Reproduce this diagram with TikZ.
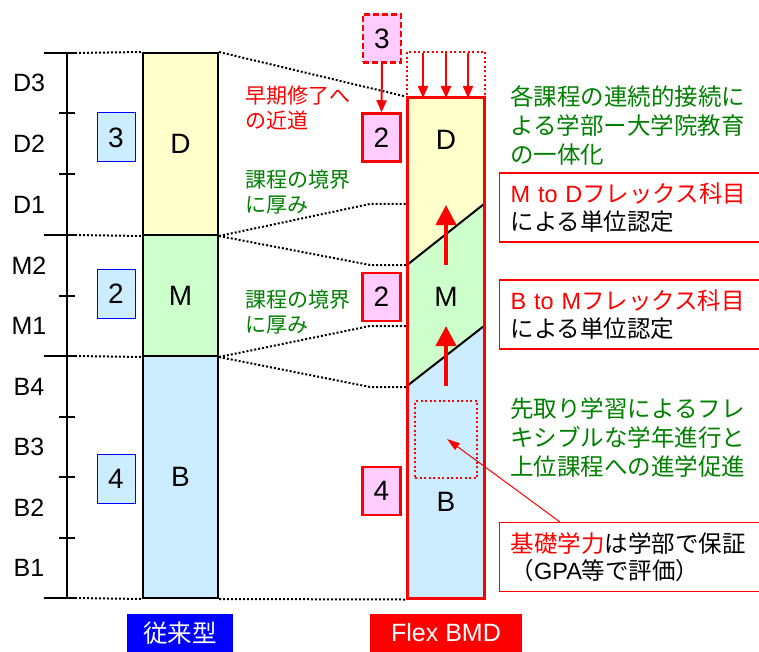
\documentclass[tikz,border=0pt]{standalone}
\usepackage{fontspec}
\setmainfont{Liberation Sans}
\newfontfamily\jp{Noto Sans CJK JP}
\usetikzlibrary{arrows.meta}
\definecolor{cY}{HTML}{FFFFCC}
\definecolor{cG}{HTML}{CCFFCC}
\definecolor{cB}{HTML}{CCECFF}
\definecolor{cP}{HTML}{FFCCFF}
\definecolor{tG}{HTML}{008000}
\begin{document}
\begin{tikzpicture}[x=1pt,y=-1pt,
 every node/.style={inner sep=0pt},
 colbox/.style={draw=black, line width=2pt, minimum width=75pt, font=\fontsize{28}{30}\selectfont},
 bluebox/.style={draw=blue, fill=cB, line width=1pt, minimum width=38pt, minimum height=49pt, font=\fontsize{28}{30}\selectfont},
 pinkbox/.style={draw=red, fill=cP, line width=2.5pt, minimum width=38pt, minimum height=48pt, font=\fontsize{28}{30}\selectfont},
 dots/.style={line width=2pt, dash pattern=on 2pt off 2pt},
 axisline/.style={line width=2.5pt},
 yearlbl/.style={font=\fontsize{25}{27}\selectfont},
 smalltxt/.style={align=left, anchor=west, font=\jp\fontsize{21}{25}\selectfont},
 bigtxt/.style={align=left, anchor=west, font=\jp\fontsize{23.5}{29}\selectfont},
 callout/.style={draw=red, line width=1.2pt, minimum height=69pt, inner xsep=11pt, align=left, text width=240pt, anchor=west, font=\jp\fontsize{23.5}{27.5}\selectfont},
 smallarrow/.style={draw=red, line width=2pt, -{Triangle[width=10pt,length=12pt]}},
 bigarrow/.style={draw=red, line width=4pt, -{Triangle[width=20pt,length=20pt]}},
 tag/.style={minimum height=38pt, text=white, font=\fontsize{25}{27}\selectfont}
]
\useasboundingbox (0,0) rectangle (759,652);

% ---------- left axis ----------
\draw[axisline] (67,53) -- (67,598);
\foreach \yy in {53,235,356,598} \draw[axisline] (44,\yy) -- (75,\yy);
\foreach \yy in {113,174,296,417,477,538} \draw[axisline] (59,\yy) -- (75,\yy);
\node[yearlbl] (yD3) at (29,83) {D3};
\node[yearlbl] (yD2) at (29,144) {D2};
\node[yearlbl] (yD1) at (29,205) {D1};
\node[yearlbl] (yM2) at (29,266) {M2};
\node[yearlbl] (yM1) at (29,326) {M1};
\node[yearlbl] (yB4) at (29,387) {B4};
\node[yearlbl] (yB3) at (29,447) {B3};
\node[yearlbl] (yB2) at (29,508) {B2};
\node[yearlbl] (yB1) at (29,568) {B1};

% ---------- left column ----------
\node[colbox, fill=cY, minimum height=182pt] (LD) at (180.5,144) {D};
\node[colbox, fill=cG, minimum height=121pt] (LM) at (180.5,295.5) {M};
\node[colbox, fill=cB, minimum height=242pt] (LB) at (180.5,477) {B};
\node[bluebox] (bx3) at (116,137.5) {3};
\node[bluebox] (bx2) at (116,293.5) {2};
\node[bluebox] (bx4) at (116,478.5) {4};

\coordinate (a1) at (75,53);
\coordinate (a2) at (75,235);
\coordinate (a3) at (75,356);
\coordinate (a4) at (75,598);
\draw[dots] (a1) -- (LD.north west);
\draw[dots] (a2) -- (LD.south west);
\draw[dots] (a3) -- (LM.south west);
\draw[dots] (a4) -- (LB.south west);

% ---------- right column ----------
\fill[cY] (407,98) -- (484,98) -- (484,204) -- (407,265) -- cycle;
\fill[cG] (407,265) -- (484,204) -- (484,326) -- (407,386) -- cycle;
\fill[cB] (407,386) -- (484,326) -- (484,598) -- (407,598) -- cycle;
\draw[line width=2pt] (407,265) -- (484,204);
\draw[line width=2pt] (407,386) -- (484,326);
\node[draw=red, line width=3pt, minimum width=77pt, minimum height=500pt] (RC) at (445.5,348) {};
\node[font=\fontsize{28}{30}\selectfont] (RD) at (446,140) {D};
\node[font=\fontsize{28}{30}\selectfont] (RM) at (446,297) {M};
\node[font=\fontsize{28}{30}\selectfont] (RB) at (446,502) {B};

% dotted connectors between columns
\coordinate (k1) at (370,204); \coordinate (k1e) at (407,204);
\coordinate (k2) at (370,265); \coordinate (k2e) at (407,265);
\coordinate (k3) at (370,326); \coordinate (k3e) at (407,326);
\coordinate (k4) at (370,387); \coordinate (k4e) at (407,387);
\draw[dots] (LD.north east) -- (RC.north west);
\draw[dots] (LD.south east) -- (k1) -- (k1e);
\draw[dots] (LD.south east) -- (k2) -- (k2e);
\draw[dots] (LM.south east) -- (k3) -- (k3e);
\draw[dots] (LM.south east) -- (k4) -- (k4e);
\draw[dots] (LB.south east) -- (RC.south west);

% pink boxes
\node[pinkbox, dashed, dash pattern=on 6pt off 3pt] (P3) at (382,38.5) {3};
\node[pinkbox] (P2a) at (381.5,137.5) {2};
\node[pinkbox] (P2b) at (381.5,297) {2};
\node[pinkbox] (P4) at (381.5,491) {4};
\draw[smallarrow] (P3.south) -- (P2a.north);

% dotted red frame on top with arrows
\node[draw=red, line width=2pt, dash pattern=on 2pt off 2.5pt, minimum width=78pt, minimum height=46pt] (TOP) at (446,75) {};
\foreach \xx/\nm in {423/t1,446/t2,468/t3} {
  \coordinate (\nm s) at (\xx,53);
  \coordinate (\nm e) at (\xx,98);
  \draw[smallarrow] (\nm s) -- (\nm e);
}

% big upward arrows
\coordinate (u1s) at (446,265); \coordinate (u1e) at (446,205);
\coordinate (u2s) at (446,386); \coordinate (u2e) at (446,326);
\draw[bigarrow] (u1s) -- (u1e);
\draw[bigarrow] (u2s) -- (u2e);

% inner dotted frame
\node[draw=red, line width=2pt, dash pattern=on 2pt off 2.5pt, minimum width=62pt, minimum height=77pt] (IN) at (446,439.5) {};

% ---------- texts ----------
\node[smalltxt, text=red] (t1) at (245,107.5) {早期修了へ\\の近道};
\node[smalltxt, text=tG] (t2) at (245,192) {課程の境界\\に厚み};
\node[smalltxt, text=tG] (t3) at (245,312.5) {課程の境界\\に厚み};
\node[bigtxt, text=tG] (t4) at (510,125.5) {各課程の連続的接続に\\よる学部ー大学院教育\\の一体化};
\node[bigtxt, text=tG] (t5) at (510,438) {先取り学習によるフレ\\キシブルな学年進行と\\上位課程への進学促進};

\node[callout] (c1) at (499,207.5) {{\color{red}{\rmfamily M to D}フレックス科目}\\による単位認定};
\node[callout] (c2) at (499,314.5) {{\color{red}{\rmfamily B to M}フレックス科目}\\による単位認定};
\node[callout] (c3) at (499,557) {{\color{red}基礎学力}は学部で保証\\（{\rmfamily GPA}等で評価）};
\coordinate (c3p) at (560,522);
\coordinate (INc) at (447,439);
\draw[red, line width=1pt, -{Triangle[width=8pt,length=13pt]}] (c3p) -- (INc);

% ---------- bottom tags ----------
\node[tag, fill=blue, minimum width=106pt, font=\jp\fontsize{24.5}{26}\selectfont] (L1) at (180,633) {従来型};
\node[tag, fill=red, minimum width=152pt] (L2) at (446,633) {Flex BMD};
\end{tikzpicture}
\end{document}
